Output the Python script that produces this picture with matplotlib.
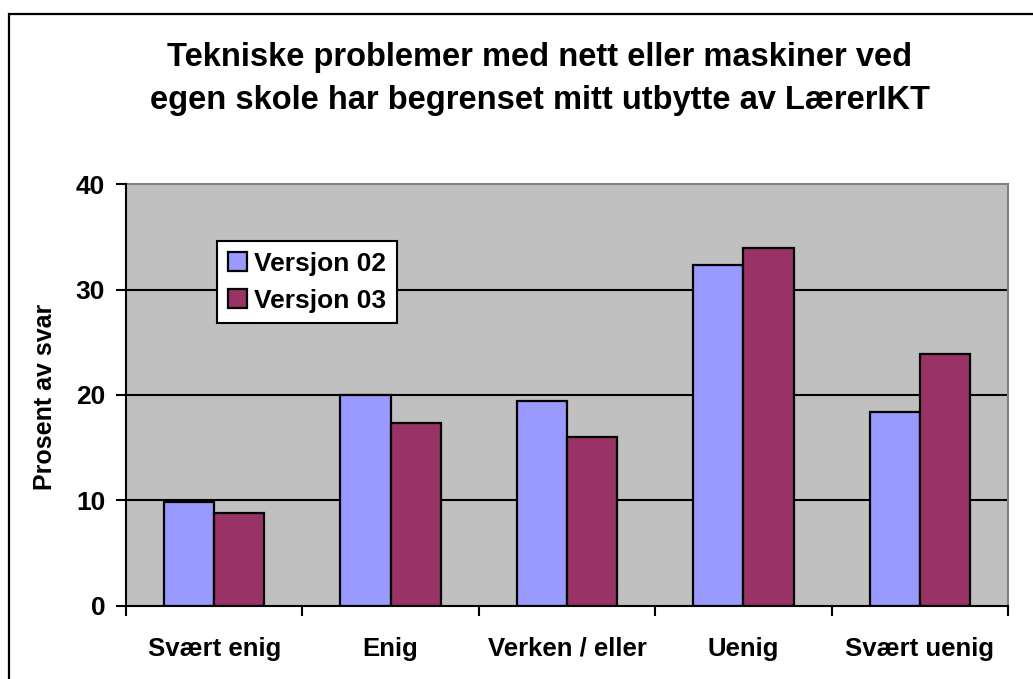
import matplotlib
matplotlib.use("Agg")
import matplotlib.pyplot as plt
from matplotlib.patches import Rectangle
import numpy as np

plt.rcParams['font.family'] = ['Liberation Sans', 'DejaVu Sans']
plt.rcParams['font.weight'] = 'bold'

categories = ["Svært enig", "Enig", "Verken / eller", "Uenig", "Svært uenig"]
series_names = ["Versjon 02", "Versjon 03"]
versjon_02 = [9.8, 20.0, 19.4, 32.3, 18.4]
versjon_03 = [8.8, 17.3, 16.0, 34.0, 23.9]
y_ticks = [0, 10, 20, 30, 40]
title = "Tekniske problemer med nett eller maskiner ved\negen skole har begrenset mitt utbytte av LærerIKT"
ylabel = "Prosent av svar"

W, H = 1033, 679
fig = plt.figure(figsize=(W / 100, H / 100), dpi=100)
fig.patch.set_facecolor('white')

l, r, t, b = 126, 1008, 184.3, 605.7
ax = fig.add_axes([l / W, 1 - b / H, (r - l) / W, (b - t) / H])
ax.set_facecolor('#C0C0C0')

x = np.arange(len(categories))
bw = 0.285
ax.bar(x - bw / 2, versjon_02, bw, color='#9999FF', edgecolor='black', linewidth=1.6,
       label=series_names[0], zorder=3)
ax.bar(x + bw / 2, versjon_03, bw, color='#993366', edgecolor='black', linewidth=1.6,
       label=series_names[1], zorder=3)

ax.set_xlim(-0.5, len(categories) - 0.5)
ax.set_ylim(0, 40)
ax.set_yticks(y_ticks)
ax.set_yticklabels([str(v) for v in y_ticks], fontsize=19, fontweight='bold')
for v in y_ticks[1:-1]:
    ax.axhline(v, color='black', linewidth=1.5, zorder=1)

ax.set_xticks(x)
ax.set_xticklabels(categories, fontsize=18.5, fontweight='bold')
for lab in ax.get_xticklabels():
    lab.set_verticalalignment('baseline')
ax.set_xticks(np.arange(-0.5, len(categories), 1.0), minor=True)
ax.tick_params(axis='x', which='major', length=0, pad=36)
ax.tick_params(axis='x', which='minor', length=7, width=1.5, direction='out', color='black')
ax.tick_params(axis='y', which='major', length=7, width=1.5, direction='out', pad=8)

for s in ['left', 'bottom']:
    ax.spines[s].set_color('black')
    ax.spines[s].set_linewidth(1.5)
for s in ['top', 'right']:
    ax.spines[s].set_color('#808080')
    ax.spines[s].set_linewidth(1.5)
ax.spines['left'].set_zorder(4)
ax.spines['bottom'].set_zorder(4)

leg = ax.legend(loc='upper left', bbox_to_anchor=((217 - l) / (r - l), (b - 241) / (b - t)),
                borderaxespad=0, frameon=True, fancybox=False, framealpha=1,
                edgecolor='black', prop={'size': 19, 'weight': 'bold'},
                handlelength=0.75, handleheight=0.75, handletextpad=0.25,
                labelspacing=0.5, borderpad=0.4)
leg.get_frame().set_linewidth(1.5)

fig.text(540 / W, 1 - 79 / H, title, ha='center', va='center', fontsize=23.5,
         fontweight='bold', linespacing=1.5)
fig.text(45 / W, 1 - 397 / H, ylabel, rotation=90, ha='center', va='center',
         fontsize=18, fontweight='bold')

fig.patches.append(Rectangle((9 / W, -0.1), 1.2, 1.1 - 14 / H, transform=fig.transFigure,
                             fill=False, edgecolor='black', linewidth=1.6))

fig.savefig('out.png', dpi=100)
